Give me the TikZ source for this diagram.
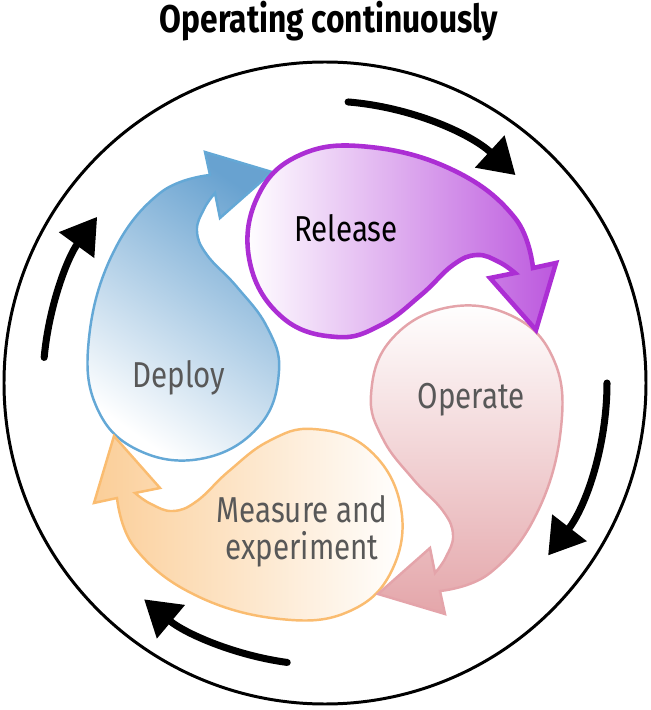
\documentclass[tikz,border=0pt]{standalone}
\usepackage{fontspec}
\setmainfont{Fira Sans}[FakeStretch=0.82]
\usepackage{tikz}
\usetikzlibrary{
  arrows.meta,
  positioning, calc
}
\definecolor{DropBlue}{RGB}{100,168,214}
\definecolor{DropBlueFill}{RGB}{104,162,208}
\definecolor{DropPurple}{RGB}{172,46,212}
\definecolor{DropPurpleFill}{RGB}{188,88,222}
\definecolor{DropPink}{RGB}{228,164,170}
\definecolor{DropPinkFill}{RGB}{228,166,170}
\definecolor{DropOrange}{RGB}{250,188,112}
\definecolor{DropOrangeFill}{RGB}{251,206,152}
\definecolor{LabelGray}{RGB}{88,88,88}
\tikzset{
  deploydrop/.style={draw=DropBlue,line width=1.4pt,
    top color=DropBlueFill,bottom color=white,shading angle=-35},
  releasedrop/.style={draw=DropPurple,line width=2.6pt,
    left color=white,right color=DropPurpleFill},
  operatedrop/.style={draw=DropPink,line width=1.4pt,
    top color=white,bottom color=DropPinkFill},
  measuredrop/.style={draw=DropOrange,line width=1.4pt,
    left color=DropOrangeFill,right color=white},
  droplabel/.style={font=\fontsize{20.5}{20.5}\selectfont,text=LabelGray,
    align=center,anchor=base,inner sep=0pt},
  titlelabel/.style={font=\bfseries\fontsize{22}{24}\selectfont,anchor=base,inner sep=0pt},
  cyclearrow/.style={-{Triangle[length=0.7cm,width=0.84cm]},line width=4pt,line cap=round}
}
% one drop, drawn as Deploy; the others are turned by -90 steps
\newcommand{\dropoutline}{(-53,211) -- (-120,231) -- plot[smooth,tension=0.7] coordinates {
  (-115,208) (-165,190) (-212,130) (-236,45) (-228,-25) (-185,-68) (-120,-75)
  (-65,-42) (-46,12) (-58,56) (-88,96) (-118,128) (-128,152) (-121,174) (-110,190)}
  -- (-105,165) -- cycle}

\begin{document}
\begin{tikzpicture}[x=0.02cm,y=0.02cm]
  \useasboundingbox (-325,-327) rectangle (326,383);
  \node[titlelabel] (title) at (4,350) {Operating continuously};
  \draw[line width=1.7pt] (0,0) circle[radius=321];
  % cycle arrows
  \foreach \n/\s/\e in {top/85.3/47.5,right/0/-37.7,bottom/-97.7/-129.9,left/174.8/143.9}{
    \coordinate (\n start) at (\s:282);
    \draw[cyclearrow] (\n start) arc[start angle=\s,end angle=\e,radius=282];
  }
  % drops
  \path[deploydrop] \dropoutline;
  \begin{scope}[rotate=-270]
    \path[measuredrop] \dropoutline;
  \end{scope}
  \begin{scope}[rotate=-180]
    \path[operatedrop] \dropoutline;
  \end{scope}
  \begin{scope}[rotate=-90]
    \path[releasedrop] \dropoutline;
  \end{scope}
  \node[droplabel,text=black] (release) at (21,141) {Release};
  \node[droplabel] (deploy) at (-146,-5) {Deploy};
  \node[droplabel] (operate) at (146,-26) {Operate};
  \node[droplabel] (measure) at (-23,-176) {Measure and\\experiment};
\end{tikzpicture}
\end{document}
